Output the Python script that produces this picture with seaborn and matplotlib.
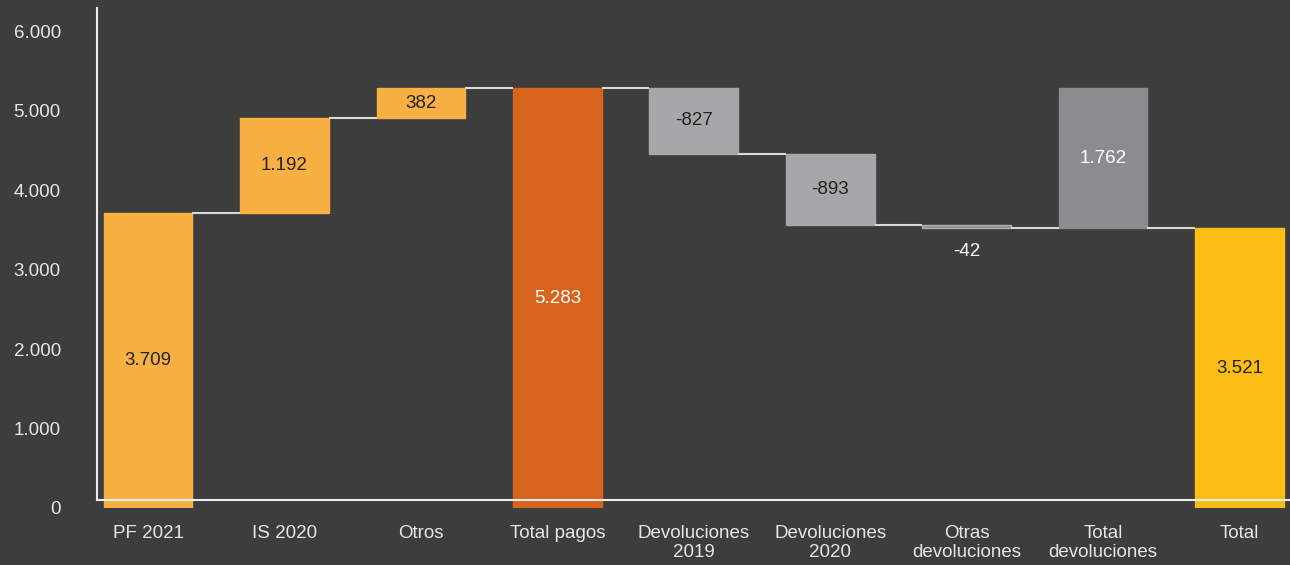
import matplotlib
matplotlib.use("Agg")
import matplotlib.pyplot as plt
import seaborn as sns
import numpy as np

# Waterfall data: payments, refunds and final total
categories = ["PF 2021", "IS 2020", "Otros", "Total pagos",
              "Devoluciones\n2019", "Devoluciones\n2020",
              "Otras\ndevoluciones", "Total\ndevoluciones", "Total"]
values = [3709, 1192, 382, 5283, -827, -893, -42, 1762, 3521]
# "step" moves the running level, "total" starts at zero, "summary" floats on the level
kinds = ["step", "step", "step", "total", "step", "step", "step", "summary", "total"]
labels = ["3.709", "1.192", "382", "5.283", "-827", "-893", "-42", "1.762", "3.521"]
yticks = [0, 1000, 2000, 3000, 4000, 5000, 6000]

bar_colors = ["#F9B042", "#F9B042", "#F9B042", "#D8641C",
              "#A6A7A9", "#A6A7A9", "#8E8E90", "#8B8C90", "#FCBD14"]
label_colors = ["#222222", "#222222", "#222222", "#FFFFFF",
                "#222222", "#222222", "#FFFFFF", "#FFFFFF", "#222222"]
BG = "#3D3D3D"

# Running levels -> bar bottoms, heights and connector levels
bottoms, heights, levels = [], [], []
level = 0
for v, k in zip(values, kinds):
    if k == "total":
        bottoms.append(0)
        heights.append(v)
        level = v
    elif k == "summary":
        bottoms.append(level)
        heights.append(abs(v))
    else:
        new = level + v
        bottoms.append(min(level, new))
        heights.append(abs(v))
        level = new
    levels.append(level)

sns.set_theme(style="white")
plt.rcParams["font.family"] = ["Liberation Sans", "DejaVu Sans"]

fig = plt.figure(figsize=(12.9, 5.65), dpi=100, facecolor=BG)
ax = fig.add_axes([97 / 1290, 57 / 565, 1 - 97 / 1290, 0.8849])
ax.set_facecolor(BG)

W = 0.65
sns.barplot(x=categories, y=heights, color=bar_colors[0], saturation=1,
            width=W, ax=ax, zorder=1)
for patch, b, c in zip(ax.patches, bottoms, bar_colors):
    patch.set_y(b)
    patch.set_facecolor(c)
    patch.set_edgecolor(c)
# thin "Otras devoluciones" bar gets a lighter outline
ax.patches[6].set_edgecolor("#B0B0B0")
ax.patches[6].set_linewidth(1.0)

# connector lines between consecutive bars
for i in range(len(categories) - 1):
    ax.hlines(levels[i], i + W / 2, i + 1 - W / 2, color="#D9D9D9",
              lw=1.5, zorder=3)

# value labels
for i, (b, h, t, c) in enumerate(zip(bottoms, heights, labels, label_colors)):
    if h < 200:
        y = b - 290
    else:
        y = b + h / 2
    ax.text(i, y, t, ha="center", va="center", fontsize=13.5, color=c, zorder=4)

ax.set_xlim(-0.374, 8.37)
ax.set_ylim(0, 6290)
ax.set_yticks(yticks)
ax.set_yticklabels([f"{v:,}".replace(",", ".") for v in yticks])

for side in ["top", "right"]:
    ax.spines[side].set_visible(False)
ax.spines["bottom"].set_position(("data", 100))
ax.spines["left"].set_bounds(100, 6290)
for side in ["left", "bottom"]:
    ax.spines[side].set_color("#EDEDED")
    ax.spines[side].set_linewidth(1.5)
    ax.spines[side].set_zorder(2.5)

ax.tick_params(axis="y", length=0, pad=26, labelsize=13.5, labelcolor="#E6E6E6")
ax.tick_params(axis="x", length=0, pad=18, labelsize=13.5, labelcolor="#E6E6E6")
for lab in ax.get_xticklabels():
    lab.set_linespacing(1.15)
    lab.set_verticalalignment("top")
ax.set_xlabel("")
ax.set_ylabel("")

fig.savefig("out.png", dpi=100, facecolor=BG)
